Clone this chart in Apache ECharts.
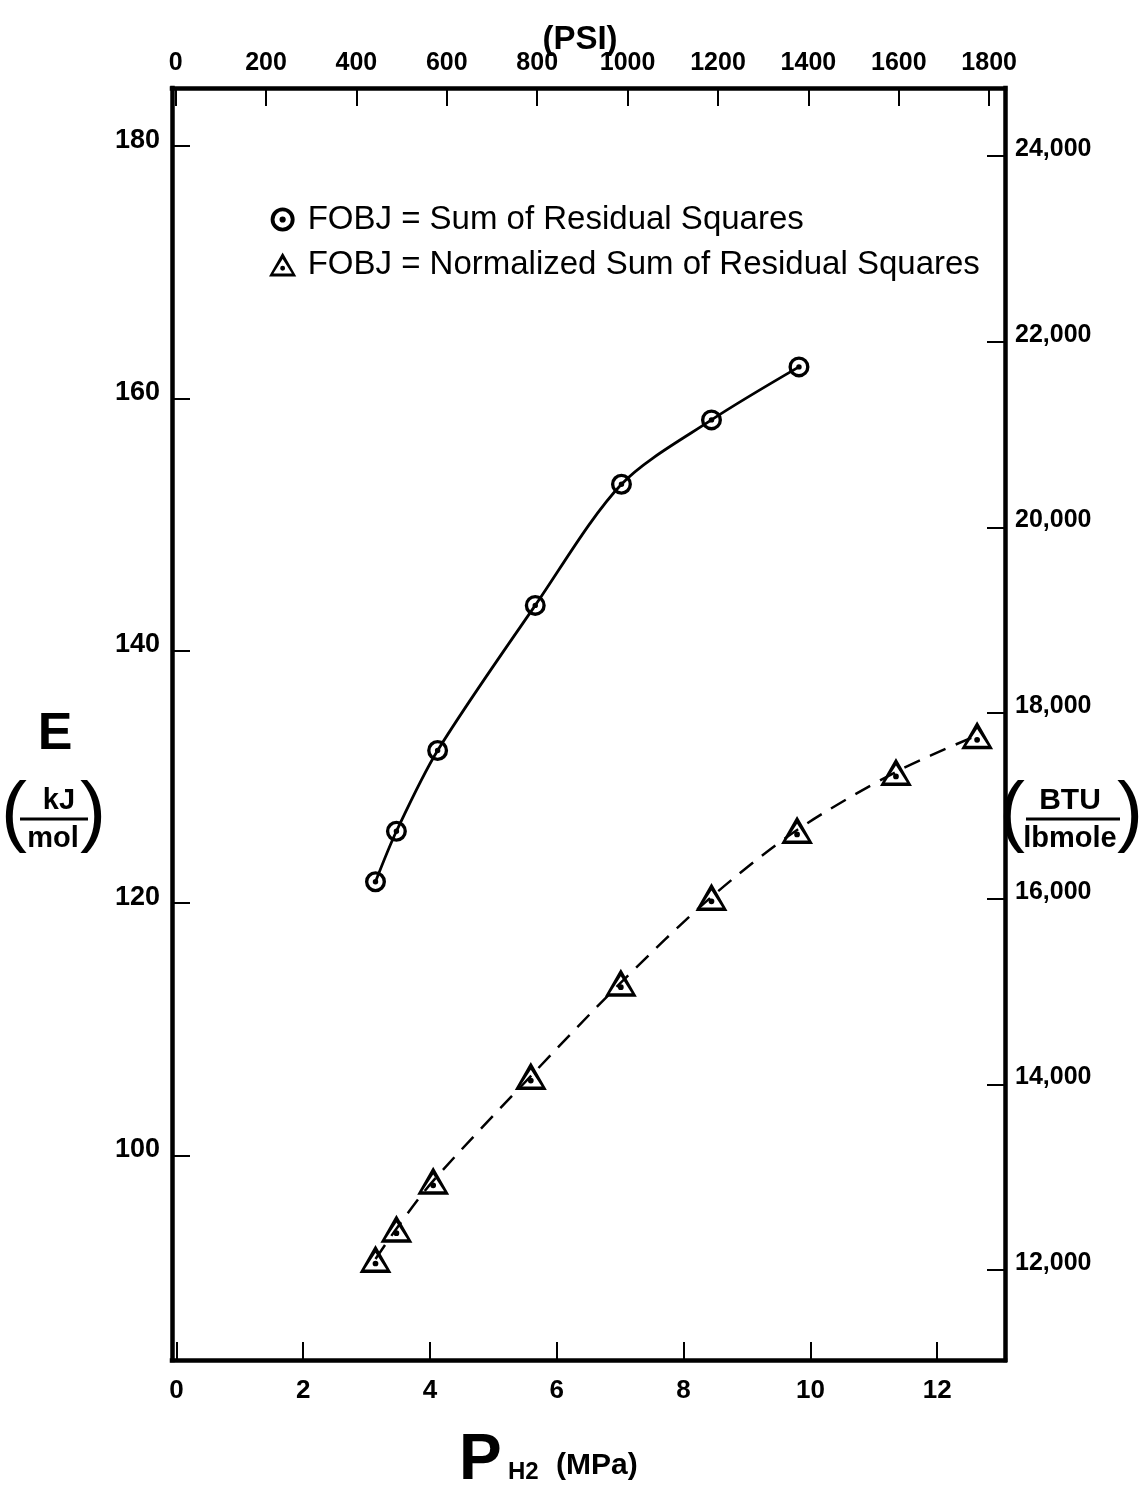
<!DOCTYPE html>
<html>
<head>
<meta charset="utf-8">
<script src="https://cdn.jsdelivr.net/npm/echarts@6/dist/echarts.min.js"></script>
<style>
html,body{margin:0;padding:0;background:#fff;}
#chart{width:1140px;height:1485px;}
</style>
</head>
<body>
<div id="chart"></div>
<script>
// ---- data ----
const seriesNames = ['FOBJ = Sum of Residual Squares', 'FOBJ = Normalized Sum of Residual Squares'];
const mpaCircle = [3.14, 3.47, 4.12, 5.66, 7.02, 8.44, 9.82];
const eCircle = [121.7, 125.7, 132.1, 143.6, 153.2, 158.3, 162.5];
const mpaTriangle = [3.14, 3.47, 4.05, 5.59, 7.01, 8.44, 9.79, 11.35, 12.63];
const eTriangle = [91.8, 94.2, 98.0, 106.3, 113.7, 120.5, 125.8, 130.4, 133.3];
const mpaTicks = [0, 2, 4, 6, 8, 10, 12];
const psiTicks = [0, 200, 400, 600, 800, 1000, 1200, 1400, 1600, 1800];
const kjTicks = [100, 120, 140, 160, 180];
const btuTicks = [12000, 14000, 16000, 18000, 20000, 22000, 24000];

// ---- presentation ----
const FONT = '"Liberation Sans", Arial, Helvetica, sans-serif';
const circlePath = 'path://M0,50A50,50,0,1,1,100,50A50,50,0,1,1,0,50ZM16,50A34,34,0,1,0,84,50A34,34,0,1,0,16,50ZM37,50A13,13,0,1,1,63,50A13,13,0,1,1,37,50Z';
const triPath = 'path://M50,0L100,88L0,88ZM50,24L16,77L84,77ZM41,58A9,9,0,1,1,59,58A9,9,0,1,1,41,58Z';

const zip = (xs, ys) => xs.map((x, i) => [x, ys[i]]);

const axisLine = { show: true, onZero: false, lineStyle: { color: '#000', width: 4.5, cap: 'square' } };
const axisTick = (vals) => ({ show: true, inside: true, length: 18, lineStyle: { color: '#000', width: 2 }, customValues: vals });
const label = (extra) => Object.assign({ color: '#000', fontFamily: FONT, fontWeight: 'bold', fontSize: 25 }, extra);

const chart = echarts.init(document.getElementById('chart'), null, { renderer: 'canvas' });

const option = {
  backgroundColor: '#fff',
  animation: false,
  grid: { left: 172, right: 135, top: 88, bottom: 125, containLabel: false },
  legend: {
    orient: 'vertical',
    left: 264,
    top: 198,
    itemGap: 12,
    itemWidth: 28,
    itemHeight: 24,
    symbolKeepAspect: true,
    textStyle: { color: '#000', fontFamily: FONT, fontSize: 33, padding: [0, 0, 0, 6] },
    data: [
      { name: seriesNames[0], icon: circlePath },
      { name: seriesNames[1], icon: triPath }
    ]
  },
  xAxis: [
    {
      type: 'value', position: 'bottom', min: -0.07, max: 13.07,
      axisLine: axisLine, axisTick: axisTick(mpaTicks),
      axisLabel: label({ margin: 18, fontSize: 26, customValues: mpaTicks }),
      splitLine: { show: false }
    },
    {
      type: 'value', position: 'top', min: -8, max: 1835,
      axisLine: axisLine, axisTick: axisTick(psiTicks),
      axisLabel: label({ margin: 12, customValues: psiTicks, formatter: v => String(v) }),
      splitLine: { show: false }
    }
  ],
  yAxis: [
    {
      type: 'value', position: 'left', min: 83.8, max: 184.6,
      axisLine: axisLine, axisTick: axisTick(kjTicks),
      axisLabel: label({ margin: 12, fontSize: 27, customValues: kjTicks, verticalAlign: 'bottom', lineHeight: 12 }),
      splitLine: { show: false }
    },
    {
      type: 'value', position: 'right', min: 11030, max: 24732,
      axisLine: axisLine, axisTick: axisTick(btuTicks),
      axisLabel: label({ margin: 10, customValues: btuTicks, verticalAlign: 'bottom', lineHeight: 14, formatter: v => v.toLocaleString('en-US') }),
      splitLine: { show: false }
    }
  ],
  series: [
    {
      name: seriesNames[0], type: 'line', xAxisIndex: 0, yAxisIndex: 0,
      data: zip(mpaCircle, eCircle),
      smooth: 0.3,
      symbol: circlePath, symbolSize: 21,
      itemStyle: { color: '#000', borderWidth: 0 },
      lineStyle: { color: '#000', width: 2.8 },
      z: 3
    },
    {
      name: seriesNames[1], type: 'line', xAxisIndex: 0, yAxisIndex: 0,
      data: zip(mpaTriangle, eTriangle),
      smooth: 0.3,
      symbol: triPath, symbolSize: [32, 28],
      itemStyle: { color: '#000', borderWidth: 0 },
      lineStyle: { color: '#000', width: 2.5, type: [17, 11] },
      z: 3
    }
  ],
  graphic: [
    // top axis title
    { type: 'text', x: 580, y: 40, style: { text: '(PSI)', fill: '#000', font: 'bold 33px ' + FONT, textAlign: 'center', textVerticalAlign: 'middle' } },
    // left axis title
    { type: 'text', x: 55, y: 735, style: { text: 'E', fill: '#000', font: 'bold 52px ' + FONT, textAlign: 'center', textVerticalAlign: 'middle' } },
    { type: 'text', x: 14, y: 815, style: { text: '(', fill: '#000', font: '78px ' + FONT, textAlign: 'center', textVerticalAlign: 'middle' } },
    { type: 'text', x: 59, y: 801, style: { text: 'kJ', fill: '#000', font: 'bold 29px ' + FONT, textAlign: 'center', textVerticalAlign: 'middle' } },
    { type: 'line', shape: { x1: 20, y1: 819, x2: 88, y2: 819 }, style: { stroke: '#000', lineWidth: 3 } },
    { type: 'text', x: 53, y: 839, style: { text: 'mol', fill: '#000', font: 'bold 29px ' + FONT, textAlign: 'center', textVerticalAlign: 'middle' } },
    { type: 'text', x: 93, y: 815, style: { text: ')', fill: '#000', font: '78px ' + FONT, textAlign: 'center', textVerticalAlign: 'middle' } },
    // right axis title
    { type: 'text', x: 1012, y: 815, style: { text: '(', fill: '#000', font: '78px ' + FONT, textAlign: 'center', textVerticalAlign: 'middle' } },
    { type: 'text', x: 1070, y: 801, style: { text: 'BTU', fill: '#000', font: 'bold 30px ' + FONT, textAlign: 'center', textVerticalAlign: 'middle' } },
    { type: 'line', shape: { x1: 1026, y1: 819, x2: 1120, y2: 819 }, style: { stroke: '#000', lineWidth: 3 } },
    { type: 'text', x: 1070, y: 839, style: { text: 'lbmole', fill: '#000', font: 'bold 29px ' + FONT, textAlign: 'center', textVerticalAlign: 'middle' } },
    { type: 'text', x: 1130, y: 815, style: { text: ')', fill: '#000', font: '78px ' + FONT, textAlign: 'center', textVerticalAlign: 'middle' } },
    // bottom axis title
    { type: 'text', x: 459, y: 1493, style: { text: 'P', fill: '#000', font: 'bold 64px ' + FONT, textAlign: 'left', textVerticalAlign: 'bottom' } },
    { type: 'text', x: 508, y: 1484, style: { text: 'H2', fill: '#000', font: 'bold 24px ' + FONT, textAlign: 'left', textVerticalAlign: 'bottom' } },
    { type: 'text', x: 556, y: 1466, style: { text: '(MPa)', fill: '#000', font: 'bold 30px ' + FONT, textAlign: 'left', textVerticalAlign: 'middle' } }
  ]
};
chart.setOption(option);
</script>
</body>
</html>
